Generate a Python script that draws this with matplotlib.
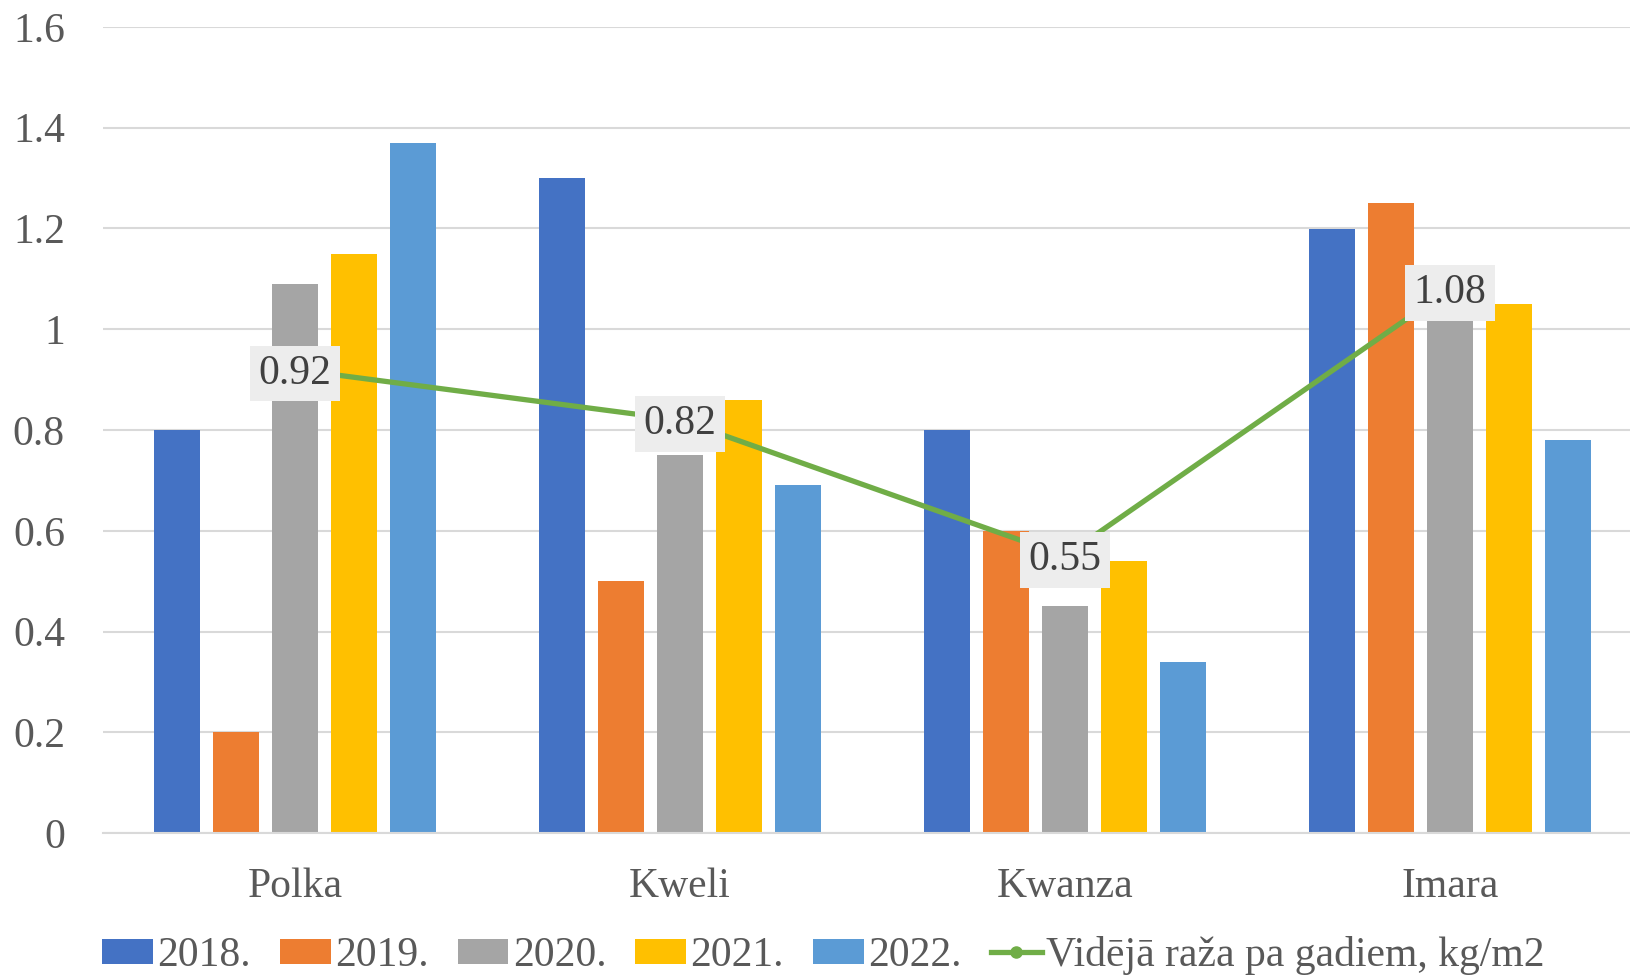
import numpy as np
import matplotlib.pyplot as plt
from matplotlib.lines import Line2D
from matplotlib.patches import Patch

plt.rcParams['font.family'] = ['Liberation Serif', 'DejaVu Serif']

categories = ['Polka', 'Kweli', 'Kwanza', 'Imara']
years = ['2018.', '2019.', '2020.', '2021.', '2022.']
values = {
    '2018.': [0.80, 1.30, 0.80, 1.20],
    '2019.': [0.20, 0.50, 0.60, 1.25],
    '2020.': [1.09, 0.75, 0.45, 1.12],
    '2021.': [1.15, 0.86, 0.54, 1.05],
    '2022.': [1.37, 0.69, 0.34, 0.78],
}
average = [0.92, 0.82, 0.55, 1.08]
avg_label = 'Vidējā raža pa gadiem, kg/m2'

colors = ['#4472C4', '#ED7D31', '#A5A5A5', '#FFC000', '#5B9BD5']
green = '#70AD47'
text_gray = '#595959'

fig = plt.figure(figsize=(16.3, 9.76), dpi=100)
ax = fig.add_axes([102.5 / 1630, 143 / 976, 1540 / 1630, 806 / 976])

x = np.arange(len(categories))
pitch = 0.153
width = 0.1195
for i, yr in enumerate(years):
    ax.bar(x + (i - 2) * pitch, values[yr], width, color=colors[i], zorder=2)

ax.plot(x, average, color=green, linewidth=3.8, marker='o', markersize=8, zorder=3)
for xi, v in zip(x, average):
    ax.text(xi, v - 0.008, f'{v:.2f}', ha='center', va='center', fontsize=30, color='#404040', zorder=4,
            bbox=dict(boxstyle='square,pad=0.2', facecolor='#EDEDED', edgecolor='none'))

ax.set_xlim(-0.5, 3.5)
ax.set_ylim(0, 1.6)
ax.set_yticks(np.arange(0, 1.61, 0.2))
ax.set_yticklabels(['0', '0.2', '0.4', '0.6', '0.8', '1', '1.2', '1.4', '1.6'])
ax.set_xticks(x)
ax.set_xticklabels(categories)
ax.tick_params(axis='y', length=0, pad=27, labelsize=30, labelcolor=text_gray)
ax.tick_params(axis='x', length=0, pad=25, labelsize=30, labelcolor=text_gray)
ax.yaxis.grid(True, color='#D9D9D9', linewidth=1.5, zorder=0)
ax.set_axisbelow(True)
for s in ['top', 'right', 'left']:
    ax.spines[s].set_visible(False)
ax.spines['bottom'].set_color('#D9D9D9')
ax.spines['bottom'].set_linewidth(1.5)

handles = [Patch(facecolor=c, edgecolor='none') for c in colors]
handles.append(Line2D([0], [0], color=green, linewidth=3.8, marker='o', markersize=8))
labels = years + [avg_label]
fig.legend(handles, labels, loc='center', bbox_to_anchor=(0.505, 0.021), ncol=6, frameon=False,
           fontsize=30, labelcolor=text_gray, handlelength=1.22, handleheight=0.53,
           handletextpad=0.1, columnspacing=0.7, borderaxespad=0)

fig.savefig('out.png', dpi=100)
